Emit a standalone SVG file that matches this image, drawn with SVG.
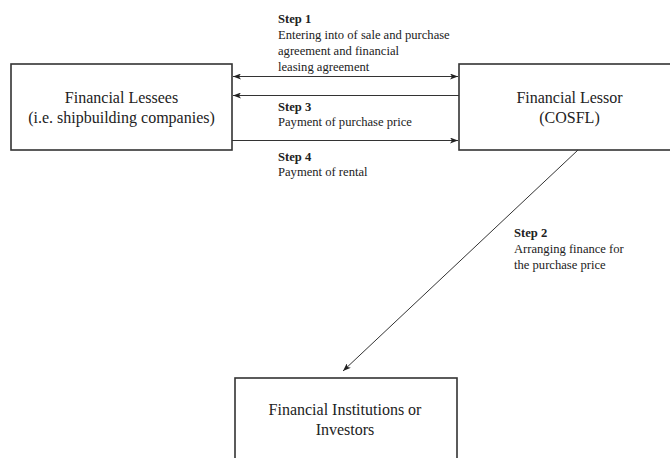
<svg xmlns="http://www.w3.org/2000/svg" width="670" height="458" viewBox="0 0 670 458">
<style>
.box{fill:#fff;stroke:#333;stroke-width:1.6}
.lbl{font-family:"Liberation Serif","Times New Roman",serif;font-size:16px;fill:#222;text-anchor:middle}
.t{font-family:"Liberation Serif","Times New Roman",serif;font-size:12.6px;fill:#222}
.b{font-weight:bold}
.c{stroke:#333;stroke-width:1;fill:none}
</style>
<defs>
<marker id="ah" markerWidth="8" markerHeight="6" refX="8" refY="3" orient="auto-start-reverse" markerUnits="userSpaceOnUse">
<path d="M0,0 L8,3 L0,6 L2,3 Z" fill="#222"/>
</marker>
</defs>
<rect width="670" height="458" fill="#fff"/>
<g id="lessees">
<rect class="box" x="11" y="64" width="221" height="86"/>
<text class="lbl" x="121.5" y="103">Financial Lessees</text>
<text class="lbl" x="121.5" y="123">(i.e. shipbuilding companies)</text>
</g>
<g id="lessor">
<rect class="box" x="459" y="64" width="230" height="86"/>
<text class="lbl" x="569.5" y="103">Financial Lessor</text>
<text class="lbl" x="569.5" y="123">(COSFL)</text>
</g>
<g id="institutions">
<rect class="box" x="235" y="378" width="222" height="100"/>
<text class="lbl" x="345" y="415">Financial Institutions or</text>
<text class="lbl" x="345" y="435">Investors</text>
</g>
<g id="connectors">
<line class="c" x1="233" y1="76.5" x2="458" y2="76.5" marker-start="url(#ah)" marker-end="url(#ah)"/>
<line class="c" x1="459" y1="95.5" x2="233" y2="95.5" marker-end="url(#ah)"/>
<line class="c" x1="232" y1="140.5" x2="458" y2="140.5" marker-end="url(#ah)"/>
<line class="c" x1="578" y1="150" x2="343" y2="371" marker-end="url(#ah)"/>
</g>
<g id="labels">
<text class="t b" x="278" y="23">Step 1</text>
<text class="t" x="278" y="39">Entering into of sale and purchase</text>
<text class="t" x="278" y="55">agreement and financial</text>
<text class="t" x="278" y="71">leasing agreement</text>
<text class="t b" x="278" y="111">Step 3</text>
<text class="t" x="278" y="126">Payment of purchase price</text>
<text class="t b" x="278" y="161">Step 4</text>
<text class="t" x="278" y="176">Payment of rental</text>
<text class="t b" x="514" y="237">Step 2</text>
<text class="t" x="514" y="253">Arranging finance for</text>
<text class="t" x="514" y="269">the purchase price</text>
</g>
</svg>
